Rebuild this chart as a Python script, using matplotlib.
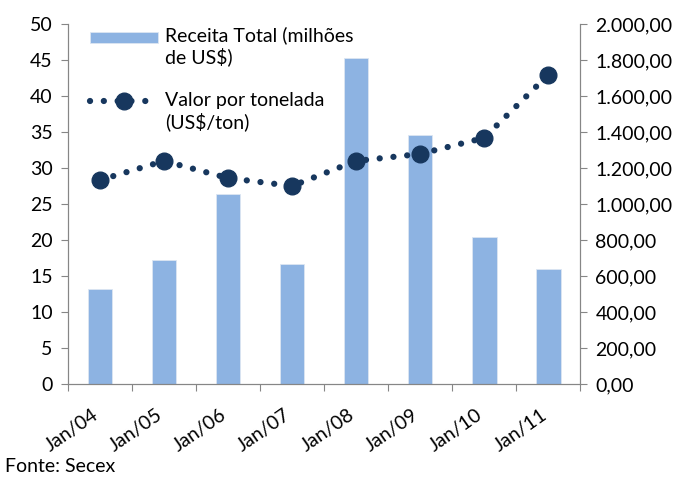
import matplotlib.pyplot as plt
import matplotlib.transforms as mtransforms
from matplotlib.legend_handler import HandlerLine2D, HandlerPatch
from matplotlib.ticker import FuncFormatter

plt.rcParams['font.family'] = ['Lato', 'DejaVu Sans']

categories = ["Jan/04", "Jan/05", "Jan/06", "Jan/07", "Jan/08", "Jan/09", "Jan/10", "Jan/11"]
receita = [13.2, 17.2, 26.4, 16.7, 45.3, 34.6, 20.4, 16.0]
valor_ton = [1133, 1239, 1144, 1100, 1239, 1278, 1367, 1717]

BAR_COLOR = "#8db3e2"
LINE_COLOR = "#17375e"
AXIS_COLOR = "#868686"
FS = 14


def br_format(v, _pos):
    s = f"{v:,.2f}"
    return s.replace(",", "X").replace(".", ",").replace("X", ".")


class RaisedPatch(HandlerPatch):
    # put the legend key beside the first line of a two-line label
    def create_artists(self, legend, orig_handle, xdescent, ydescent,
                       width, height, fontsize, trans):
        return super().create_artists(legend, orig_handle, xdescent,
                                      ydescent - 6, width, height,
                                      fontsize, trans)


class RaisedLine(HandlerLine2D):
    def create_artists(self, legend, orig_handle, xdescent, ydescent,
                       width, height, fontsize, trans):
        return super().create_artists(legend, orig_handle, xdescent,
                                      ydescent - 16, width, height,
                                      fontsize, trans)


fig = plt.figure(figsize=(6.84, 4.78), dpi=100)
ax = fig.add_axes([0.0994, 0.1967, 0.7486, 0.7531])
ax2 = ax.twinx()

x = list(range(len(categories)))
bars = ax.bar(x, receita, width=0.39, color=BAR_COLOR, edgecolor="#dce6f2",
              linewidth=0.6, zorder=2)
line, = ax2.plot(x, valor_ton, color=LINE_COLOR, linestyle=(0, (0.01, 2.2)),
                 linewidth=4.5, dash_capstyle="round", marker="o", markersize=12)

ax.set_xlim(-0.5, len(categories) - 0.5)
ax.set_ylim(0, 50)
ax.set_yticks(range(0, 51, 5))
ax2.set_ylim(0, 2000)
ax2.set_yticks(range(0, 2001, 200))
ax2.yaxis.set_major_formatter(FuncFormatter(br_format))

ax.set_xticks([i - 0.5 for i in range(len(categories) + 1)])
ax.set_xticklabels([])
ax.set_xticks(x, minor=True)
ax.set_xticklabels(categories, minor=True, rotation=35, ha="right",
                   rotation_mode="anchor")
ax.tick_params(axis="x", which="minor", length=0, labelsize=FS, pad=16)
ax.tick_params(axis="x", which="major", length=5, color=AXIS_COLOR)
shift = mtransforms.ScaledTranslation(-8 / 100, 0, fig.dpi_scale_trans)
for lbl in ax.get_xticklabels(minor=True):
    lbl.set_transform(lbl.get_transform() + shift)

for a in (ax, ax2):
    a.spines["top"].set_visible(False)
    for s in ("left", "right", "bottom"):
        a.spines[s].set_color(AXIS_COLOR)
    a.tick_params(axis="y", labelsize=FS, color=AXIS_COLOR, length=5, pad=6)

bar_key = bars.patches[0]
ax.legend([bar_key, line],
          ["Receita Total (milhões\nde US$)", "Valor por tonelada\n(US$/ton)"],
          handler_map={type(bar_key): RaisedPatch(), type(line): RaisedLine()},
          loc="upper left", bbox_to_anchor=(0.043, 0.995), frameon=False,
          fontsize=FS, handlelength=3.5, handleheight=0.5, handletextpad=0.35,
          labelspacing=1.35, borderpad=0, borderaxespad=0)

fig.text(0.007, 0.012, "Fonte: Secex", fontsize=FS)

fig.savefig("out.png", dpi=100)
